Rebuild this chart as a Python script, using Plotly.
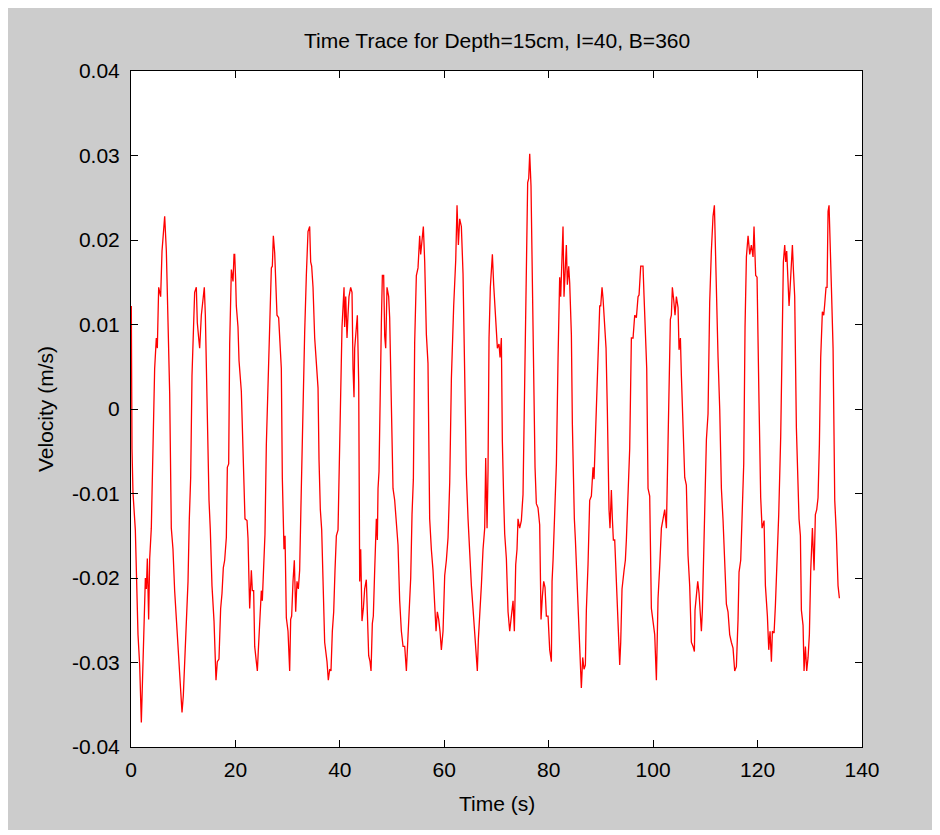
import plotly.graph_objects as go

# ---- data ----
time_s = [
    0.06, 0.06, 0.19, 0.38, 0.83, 1.34, 1.66, 1.98, 2.30, 2.49, 2.75, 2.94, 3.13, 3.38, 3.58, 3.89,
    4.21, 4.53, 4.85, 5.04, 5.30, 5.68, 5.94, 6.19, 6.45, 6.77, 7.09, 7.41, 7.72, 8.04, 8.36, 8.87,
    9.13, 9.45, 9.77, 10.02, 10.28, 10.60, 10.92, 11.17, 11.43, 11.68, 11.94, 12.19, 12.51, 12.70,
    12.96, 13.15, 13.47, 13.79, 14.04, 14.24, 14.43, 14.75, 14.94, 15.19, 15.51, 15.90, 16.09, 16.28,
    16.53, 16.85, 17.17, 17.43, 17.68, 17.94, 18.26, 18.45, 18.71, 18.90, 19.22, 19.54, 19.73,
    19.86, 20.05, 20.17, 20.49, 20.69, 21.13, 21.58, 21.83, 22.22, 22.41, 22.60, 22.73, 23.05, 23.24,
    23.49, 23.69, 24.00, 24.20, 24.39, 24.64, 24.96, 25.15, 25.41, 25.66, 25.92, 26.24, 26.56, 26.88,
    27.07, 27.26, 27.52, 27.71, 27.96, 28.28, 28.47, 28.79, 28.98, 29.11, 29.30, 29.50, 29.75, 30.07,
    30.39, 30.58, 30.77, 31.03, 31.28, 31.54, 31.79, 32.05, 32.30, 32.62, 32.94, 33.26, 33.58, 33.90,
    34.22, 34.41, 34.60, 34.86, 35.18, 35.50, 35.82, 36.01, 36.26, 36.52, 36.77, 37.09, 37.54, 37.79,
    38.05, 38.30, 38.56, 38.82, 39.07, 39.33, 39.65,
    40.16, 40.41, 40.80, 40.92, 41.12, 41.37, 41.56, 41.75, 42.07, 42.33, 42.52, 42.71, 42.84, 43.16,
    43.35, 43.61, 43.80, 43.99, 44.24, 44.50, 44.75, 45.07, 45.27, 45.52, 45.78, 45.97, 46.22, 46.41,
    46.67, 46.99, 47.18, 47.31, 47.50, 47.76, 47.95, 48.14, 48.39, 48.59, 48.78, 49.03, 49.35, 49.54,
    49.86, 50.18, 50.50, 50.82, 51.14, 51.46, 51.78, 52.10, 52.42, 52.74, 52.93, 53.18, 53.37, 53.57,
    53.82, 54.08, 54.33, 54.65, 54.97, 55.29, 55.48, 55.74, 55.99, 56.25, 56.57, 56.88, 57.20, 57.52,
    57.84, 58.16, 58.42, 58.67, 58.93, 59.18, 59.44, 59.76, 59.95,
    60.08, 60.40, 60.72, 61.04, 61.36, 61.80, 62.19, 62.44, 62.70, 62.95, 63.27, 63.59, 63.91, 64.23,
    64.55, 64.87, 65.19, 65.50, 65.82, 66.14, 66.33, 66.53, 66.78, 67.10, 67.42, 67.74, 67.93, 68.19,
    68.38, 68.57, 68.82, 69.08, 69.21, 69.46, 69.72, 69.97, 70.17, 70.48, 70.68, 70.93, 71.12, 71.38,
    71.57, 71.89, 72.21, 72.53, 72.85, 73.17, 73.42, 73.68, 73.93, 74.12, 74.44, 74.76, 75.08, 75.40,
    75.72, 75.97, 76.17, 76.36, 76.61, 76.87, 77.12, 77.38, 77.63, 77.95, 78.27, 78.53, 78.78, 79.04,
    79.29, 79.55, 79.87,
    80.19, 80.51, 80.64, 80.83, 81.15, 81.47, 81.79, 82.10, 82.30, 82.55, 82.74, 82.93, 83.19, 83.38,
    83.57, 83.83, 84.02, 84.34, 84.53, 84.72, 84.91, 85.11, 85.49, 85.74, 85.93, 86.13, 86.25, 86.51,
    86.76, 87.02, 87.21, 87.53, 87.85, 88.17, 88.49, 88.68, 88.94, 89.32, 89.57, 89.77, 89.96, 90.21,
    90.40, 90.72, 90.98, 91.23, 91.36, 91.55, 91.74, 92.00, 92.19, 92.38, 92.64, 92.96, 93.15, 93.40,
    93.60, 93.79, 94.04, 94.43, 94.68, 94.87, 95.19, 95.51, 95.83, 96.15, 96.47, 96.79, 97.11, 97.30,
    97.62, 98.06, 98.26, 98.51, 98.77, 99.02, 99.34, 99.66, 100.17,
    100.30, 100.62, 100.81, 100.94, 101.26, 101.58, 101.90, 102.22, 102.54, 102.73, 103.05, 103.30,
    103.49, 103.68, 103.94, 104.19, 104.45, 104.77, 104.96, 105.22, 105.41, 105.73, 106.05, 106.36,
    106.49, 106.68, 107.00, 107.32, 107.64, 107.90, 108.02, 108.28, 108.54, 108.79, 109.05, 109.24,
    109.43, 109.68, 109.88, 110.20, 110.51, 110.83, 111.15, 111.47, 111.73, 111.92, 112.11, 112.43,
    112.75, 113.07, 113.39, 113.71, 114.03, 114.34, 114.66, 114.98, 115.30, 115.62, 115.94, 116.26,
    116.45, 116.77, 117.09, 117.35, 117.60, 117.86, 118.18, 118.50, 118.81, 119.13, 119.32, 119.64,
    119.90, 120.09, 120.28,
    120.60, 120.86, 121.24, 121.50, 121.88, 122.14, 122.39, 122.65, 122.84, 123.16, 123.41, 123.73,
    124.05, 124.43, 124.69, 124.94, 125.20, 125.39, 125.58, 125.84, 126.03, 126.22, 126.48, 126.67,
    126.86, 127.11, 127.43, 127.75, 127.94, 128.20, 128.39, 128.71, 128.90, 129.16, 129.41, 129.67,
    129.92, 130.18, 130.50, 130.82, 131.07, 131.33, 131.58, 131.84, 132.09, 132.41, 132.67, 132.86,
    133.11, 133.31, 133.50, 133.69, 133.88, 134.14, 134.46, 134.78, 135.09, 135.41, 135.67,
]

velocity = [
    0.0122, 0.0079, -0.0047, -0.0099, -0.0143, -0.0267, -0.0303, -0.0371, -0.0303, -0.0245, -0.0200,
    -0.0213, -0.0177, -0.0249, -0.0177, -0.0141, -0.0029, 0.0048, 0.0084, 0.0072, 0.0144, 0.0133,
    0.0187, 0.0205, 0.0228, 0.0187, 0.0115, 0.0018, -0.0141, -0.0166, -0.0215, -0.0272, -0.0303,
    -0.0339, -0.0359, -0.0339, -0.0299, -0.0236, -0.0204, -0.0130, -0.0081, 0.0039, 0.0097, 0.0138,
    0.0144, 0.0102, 0.0084, 0.0072, 0.0111, 0.0133, 0.0144, 0.0111, 0.0043, -0.0081, -0.0108,
    -0.0143, -0.0209, -0.0251, -0.0292, -0.0321, -0.0299, -0.0296, -0.0236, -0.0218, -0.0188,
    -0.0179, -0.0152, -0.0069, -0.0065, 0.0077, 0.0165, 0.0151, 0.0183,
    0.0183, 0.0151, 0.0122, 0.0097, 0.0057, 0.0021, -0.0069, -0.0130, -0.0132, -0.0153, -0.0204,
    -0.0236, -0.0191, -0.0215, -0.0215, -0.0281, -0.0299, -0.0310, -0.0285, -0.0247, -0.0215,
    -0.0227, -0.0173, -0.0148, -0.0042, 0.0025, 0.0072, 0.0167, 0.0169, 0.0205, 0.0185, 0.0153,
    0.0111, 0.0108, 0.0084, 0.0048, -0.0081, -0.0105, -0.0166, -0.0150, -0.0247, -0.0263, -0.0310,
    -0.0249, -0.0245, -0.0204, -0.0179, -0.0240, -0.0204, -0.0213, -0.0191, -0.0094, 0.0012, 0.0090,
    0.0158, 0.0210, 0.0216, 0.0174, 0.0169, 0.0144, 0.0084, 0.0048, 0.0025, -0.0060, -0.0119,
    -0.0143, -0.0191, -0.0276, -0.0299, -0.0321, -0.0308, -0.0310, -0.0263, -0.0240, -0.0191,
    -0.0150, -0.0143,
    0.0007, 0.0097, 0.0144, 0.0097, 0.0133, 0.0084, 0.0111, 0.0133, 0.0144, 0.0138, 0.0048, 0.0014,
    0.0072, 0.0102, 0.0111, 0.0030, -0.0204, -0.0166, -0.0251, -0.0236, -0.0213, -0.0202, -0.0258,
    -0.0292, -0.0299, -0.0310, -0.0254, -0.0245, -0.0191, -0.0130, -0.0155, -0.0094, -0.0074, 0.0061,
    0.0102, 0.0158, 0.0158, 0.0086, 0.0072, 0.0144, 0.0133, 0.0108, 0.0012, -0.0094, -0.0108,
    -0.0137, -0.0161, -0.0227, -0.0263, -0.0281, -0.0281, -0.0310, -0.0281, -0.0249, -0.0213,
    -0.0200, -0.0125, -0.0083, 0.0079, 0.0158, 0.0167, 0.0205, 0.0183, 0.0201, 0.0216, 0.0174,
    0.0088, 0.0054, -0.0130, -0.0166, -0.0191, -0.0231, -0.0263, -0.0240, -0.0249, -0.0263, -0.0285,
    -0.0263, -0.0200,
    -0.0197, -0.0179, -0.0152, -0.0087, 0.0036, 0.0122, 0.0176, 0.0241, 0.0194, 0.0225, 0.0216,
    0.0160, 0.0030, -0.0078, -0.0130, -0.0173, -0.0209, -0.0236, -0.0263, -0.0285, -0.0310, -0.0272,
    -0.0249, -0.0209, -0.0166, -0.0141, -0.0058, -0.0141, -0.0072, 0.0084, 0.0144, 0.0169, 0.0183,
    0.0147, 0.0120, 0.0084, 0.0072, 0.0077, 0.0061, 0.0084, -0.0038, -0.0108, -0.0148, -0.0177,
    -0.0240, -0.0263, -0.0240, -0.0227, -0.0263, -0.0184, -0.0166, -0.0130, -0.0141, -0.0132,
    -0.0101, 0.0036, 0.0129, 0.0268, 0.0273, 0.0302, 0.0264, 0.0133, 0.0007, -0.0069, -0.0112,
    -0.0117, -0.0137, -0.0249, -0.0222, -0.0204, -0.0211, -0.0245, -0.0245,
    -0.0285, -0.0299, -0.0204, -0.0179, -0.0119, -0.0065, 0.0061, 0.0156, 0.0133, 0.0187, 0.0216,
    0.0133, 0.0169, 0.0194, 0.0147, 0.0169, 0.0149, 0.0088, -0.0018, -0.0096, -0.0130, -0.0155,
    -0.0209, -0.0249, -0.0276, -0.0303, -0.0330, -0.0294, -0.0308, -0.0303, -0.0238, -0.0184,
    -0.0108, -0.0103, -0.0069, -0.0083, -0.0036, 0.0048, 0.0097, 0.0122, 0.0122, 0.0144, 0.0131,
    0.0102, 0.0072, -0.0002, -0.0072, -0.0119, -0.0141, -0.0096, -0.0130, -0.0155, -0.0155, -0.0204,
    -0.0249, -0.0276, -0.0303, -0.0276, -0.0213, -0.0191, -0.0179, -0.0155, -0.0101, -0.0047,
    0.0084, 0.0084, 0.0111, 0.0108, 0.0133, 0.0135, 0.0169, 0.0169, 0.0133, 0.0088, 0.0048,
    -0.0094, -0.0103, -0.0236, -0.0267,
    -0.0267, -0.0321, -0.0272, -0.0224, -0.0186, -0.0141, -0.0130, -0.0119, -0.0141, -0.0069,
    0.0054, 0.0106, 0.0111, 0.0144, 0.0129, 0.0111, 0.0133, 0.0120, 0.0070, 0.0084, 0.0039,
    -0.0024, -0.0081, -0.0090, -0.0119, -0.0173, -0.0209, -0.0276, -0.0281, -0.0287, -0.0238,
    -0.0215, -0.0204, -0.0218, -0.0249, -0.0263, -0.0238, -0.0173, -0.0137, -0.0036, -0.0006,
    0.0126, 0.0187, 0.0228, 0.0241, 0.0183, 0.0126, 0.0061, 0.0000, -0.0094, -0.0132, -0.0191,
    -0.0231, -0.0240, -0.0267, -0.0276, -0.0283, -0.0310, -0.0305, -0.0249, -0.0193, -0.0179,
    -0.0117, -0.0065, 0.0097, 0.0180, 0.0205, 0.0183, 0.0194, 0.0180, 0.0216, 0.0158, 0.0156,
    0.0057, 0.0007,
    -0.0105, -0.0141, -0.0132, -0.0209, -0.0245, -0.0285, -0.0263, -0.0299, -0.0263, -0.0265,
    -0.0233, -0.0179, -0.0125, -0.0033, 0.0102, 0.0174, 0.0194, 0.0174, 0.0187, 0.0156, 0.0122,
    0.0142, 0.0167, 0.0194, 0.0165, 0.0133, -0.0022, -0.0094, -0.0130, -0.0150, -0.0238, -0.0256,
    -0.0310, -0.0281, -0.0310, -0.0294, -0.0267, -0.0191, -0.0141, -0.0191, -0.0125, -0.0119,
    -0.0105, -0.0042, 0.0061, 0.0115, 0.0111, 0.0124, 0.0144, 0.0144, 0.0234, 0.0241, 0.0210,
    0.0144, 0.0072, -0.0108, -0.0148, -0.0209, -0.0224,
]

x_ticks = [0, 20, 40, 60, 80, 100, 120, 140]
x_tick_labels = ["0", "20", "40", "60", "80", "100", "120", "140"]
y_ticks = [-0.04, -0.03, -0.02, -0.01, 0, 0.01, 0.02, 0.03, 0.04]
y_tick_labels = ["-0.04", "-0.03", "-0.02", "-0.01", "0", "0.01", "0.02", "0.03", "0.04"]

title_text = "Time Trace for Depth=15cm, I=40, B=360"
x_label = "Time (s)"
y_label = "Velocity (m/s)"

FONT = "Liberation Sans, Arial, sans-serif"
FS = 21
GREY = "#cccccc"

fig = go.Figure(
    go.Scatter(
        x=time_s, y=velocity, mode="lines",
        line=dict(color="#ff0000", width=1.3),
        hoverinfo="skip",
    )
)

axis_common = dict(
    showgrid=False, zeroline=False, showline=True, linecolor="black", linewidth=1,
    mirror="ticks", ticks="inside", ticklen=7, tickwidth=1, tickcolor="black",
    tickfont=dict(family=FONT, size=FS, color="black"),
)

fig.update_xaxes(range=[0, 140], tickvals=x_ticks, ticktext=x_tick_labels,
                 ticklabelstandoff=4, **axis_common)
fig.update_yaxes(range=[-0.04, 0.04], tickvals=y_ticks, ticktext=y_tick_labels,
                 ticklabelstandoff=6, **axis_common)

# page body adds an 8px offset; figure spans 8..935 x 8..830 of the window
OFF = 8
W, H = 927, 822
L, R, T, B = 131 - OFF, 935 - 862, 71 - OFF, 830 - 747
pw, ph = W - L - R, H - T - B


def paper_x(px):
    return (px - OFF - L) / pw


def paper_y(py):
    return (H - B - (py - OFF)) / ph


annotations = [
    dict(text=title_text, xref="paper", yref="paper", x=0.5, y=paper_y(40),
         showarrow=False, xanchor="center", yanchor="middle",
         font=dict(family=FONT, size=FS, color="black")),
    dict(text=x_label, xref="paper", yref="paper", x=0.5, y=paper_y(803),
         showarrow=False, xanchor="center", yanchor="middle",
         font=dict(family=FONT, size=FS, color="black")),
    dict(text=y_label, xref="paper", yref="paper", x=paper_x(45), y=0.5,
         showarrow=False, xanchor="center", yanchor="middle", textangle=-90,
         font=dict(family=FONT, size=FS, color="black")),
]

fig.update_layout(
    width=W, height=H,
    margin=dict(l=L, r=R, t=T, b=B, autoexpand=False),
    paper_bgcolor=GREY, plot_bgcolor="white",
    showlegend=False, annotations=annotations,
    font=dict(family=FONT, size=FS, color="black"),
)

fig.write_html("out.html")
